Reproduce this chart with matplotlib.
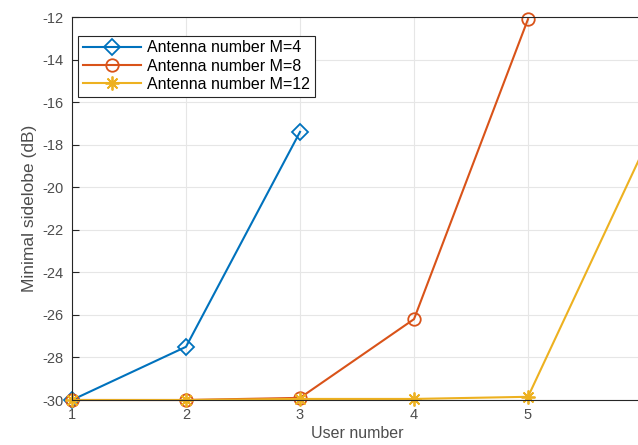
import numpy as np
import matplotlib.pyplot as plt

plt.rcParams['font.family'] = ['Liberation Sans', 'DejaVu Sans']
plt.rcParams['axes.unicode_minus'] = False

users_m4 = [1, 2, 3]
sidelobe_m4 = [-30.0, -27.5, -17.4]
users_m8 = [1, 2, 3, 4, 5]
sidelobe_m8 = [-30.0, -30.0, -29.9, -26.2, -12.1]
users_m12 = [1, 2, 3, 4, 5, 6]
sidelobe_m12 = [-30.0, -30.0, -29.95, -29.95, -29.85, -18.4]

labels = ['Antenna number M=4', 'Antenna number M=8', 'Antenna number M=12']
colors = ['#0072BD', '#D95319', '#EDB120']

fig = plt.figure(figsize=(6.38, 4.45), dpi=100)
# axes runs slightly past the right edge of the figure, as in the cropped original
ax = fig.add_axes([72 / 638, 45 / 445, 570 / 638, 383 / 445])

ax.plot(users_m4, sidelobe_m4, color=colors[0], marker='D', markersize=8,
        markerfacecolor='none', markeredgewidth=1.3, linewidth=1.5, label=labels[0], clip_on=False)
ax.plot(users_m8, sidelobe_m8, color=colors[1], marker='o', markersize=9,
        markerfacecolor='none', markeredgewidth=1.3, linewidth=1.5, label=labels[1], clip_on=False)
# MATLAB-style asterisk marker
ax.plot(users_m12, sidelobe_m12, color=colors[2], marker=(8, 2, 0), markersize=10,
        markeredgewidth=1.3, linewidth=1.5, label=labels[2], clip_on=False,
        markevery=[0, 1, 2, 3, 4])

ax.set_xlim(1, 6)
ax.set_ylim(-30, -12)
ax.set_xticks([1, 2, 3, 4, 5])
ax.set_yticks(np.arange(-30, -11, 2))
ax.grid(True, color='#e6e6e6', linewidth=0.8)
ax.set_axisbelow(True)
ax.tick_params(direction='in', length=5, colors='#262626', labelcolor='#4d4d4d',
               labelsize=10.5, pad=6)
for s in ax.spines.values():
    s.set_color('#262626')
    s.set_linewidth(0.8)

ax.set_xlabel('User number', fontsize=11.5, color='#4d4d4d', labelpad=3)
ax.set_ylabel('Minimal sidelobe (dB)', fontsize=12.5, color='#4d4d4d', labelpad=4)

leg = ax.legend(loc='upper left', bbox_to_anchor=(0.0, 0.968), fontsize=11.5, frameon=True,
                fancybox=False, edgecolor='#262626', framealpha=1, handlelength=3.6,
                borderpad=0.3, labelspacing=0.2, handletextpad=0.4, borderaxespad=0.4)
leg.get_frame().set_linewidth(0.8)

fig.savefig('out.png', dpi=100)
